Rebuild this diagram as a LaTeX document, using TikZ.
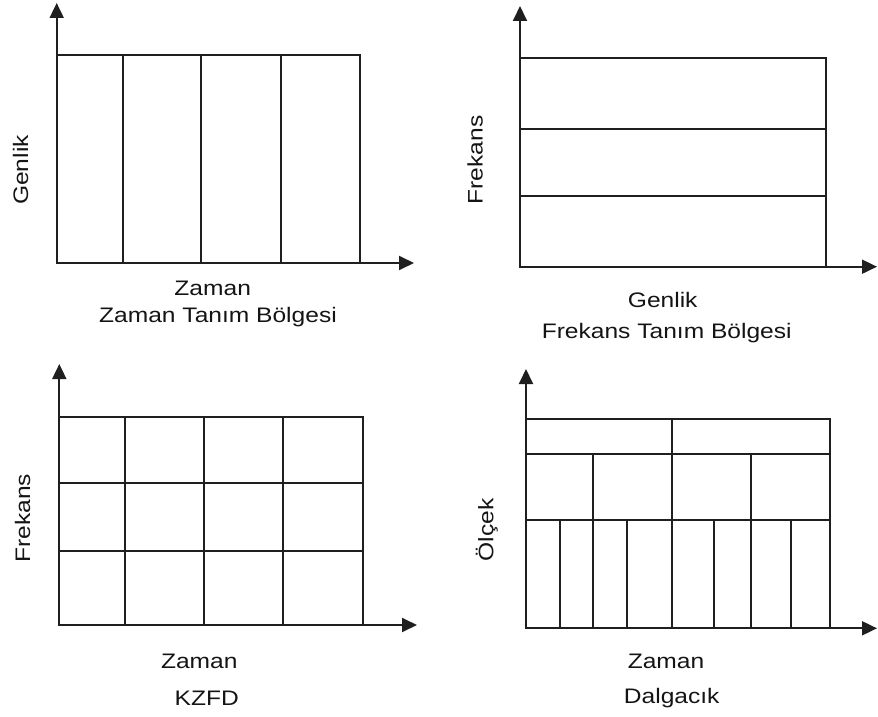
\documentclass[tikz,border=0pt]{standalone}
\usepackage{fontspec}
\setmainfont{Liberation Sans}
\usetikzlibrary{arrows.meta}
\newcommand{\widetxt}[1]{\scalebox{1.17}[1]{#1}}
\begin{document}
\begin{tikzpicture}[x=1pt,y=-1pt,
  ln/.style={line width=1.7pt, draw=black!88},
  axis/.style={line width=1.9pt, draw=black!88, -{Triangle[length=15pt,width=14pt]}},
  lbl/.style={font=\fontsize{21}{24}\selectfont, inner sep=0pt, text=black!92}]
\useasboundingbox (0,0) rectangle (878,717);
% ---------- Q1: Zaman Tanim Bolgesi
\coordinate (o1) at (56.7,263);
\coordinate (y1) at (56.7,3);
\coordinate (x1) at (414,263);
\draw[ln] (56.7,55) rectangle (360,263);
\foreach \x in {122.7,201.3,280.7} \draw[ln] (\x,55) -- (\x,263);
\draw[axis] (o1) -- (y1);
\draw[axis] (o1) -- (x1);
\node[lbl,rotate=90] (genlik1) at (20.7,170) {\widetxt{Genlik}};
\node[lbl] (zaman1) at (212.7,288) {\widetxt{Zaman}};
\node[lbl] (title1) at (218,317) {\widetxt{Zaman Tanım Bölgesi}};
% ---------- Q2: Frekans Tanim Bolgesi
\coordinate (o2) at (520,266.7);
\coordinate (y2) at (520,6);
\coordinate (x2) at (877,266.7);
\draw[ln] (520,57.7) rectangle (825.7,266.7);
\foreach \y in {129.3,196} \draw[ln] (520,\y) -- (825.7,\y);
\draw[axis] (o2) -- (y2);
\draw[axis] (o2) -- (x2);
\node[lbl,rotate=90] (frek2) at (475,160) {\widetxt{Frekans}};
\node[lbl] (genlik2) at (662.7,300) {\widetxt{Genlik}};
\node[lbl] (title2) at (666.7,333) {\widetxt{Frekans Tanım Bölgesi}};
% ---------- Q3: KZFD
\coordinate (o3) at (59.3,625);
\coordinate (y3) at (59.3,364);
\coordinate (x3) at (417,625);
\draw[ln] (59.3,417.3) rectangle (362.7,625);
\foreach \x in {125,204,283.3} \draw[ln] (\x,417.3) -- (\x,625);
\foreach \y in {483.3,550.7} \draw[ln] (59.3,\y) -- (362.7,\y);
\draw[axis] (o3) -- (y3);
\draw[axis] (o3) -- (x3);
\node[lbl,rotate=90] (frek3) at (22.7,518.3) {\widetxt{Frekans}};
\node[lbl] (zaman3) at (199.3,661.7) {\widetxt{Zaman}};
\node[lbl] (title3) at (206.7,698.3) {\widetxt{KZFD}};
% ---------- Q4: Dalgacik
\coordinate (o4) at (526,628.3);
\coordinate (y4) at (526,369);
\coordinate (x4) at (877,628.3);
\draw[ln] (526,419.3) rectangle (830,628.3);
\foreach \y in {454,520} \draw[ln] (526,\y) -- (830,\y);
\draw[ln] (671.7,419.3) -- (671.7,628.3);
\foreach \x in {592.7,751} \draw[ln] (\x,454) -- (\x,628.3);
\foreach \x in {560,627.3,714,790.7} \draw[ln] (\x,520) -- (\x,628.3);
\draw[axis] (o4) -- (y4);
\draw[axis] (o4) -- (x4);
\node[lbl,rotate=90] (olcek4) at (486.7,530) {\widetxt{Ölçek}};
\node[lbl] (zaman4) at (666,661.7) {\widetxt{Zaman}};
\node[lbl] (title4) at (671.7,698.3) {\widetxt{Dalgacık}};
\end{tikzpicture}
\end{document}
